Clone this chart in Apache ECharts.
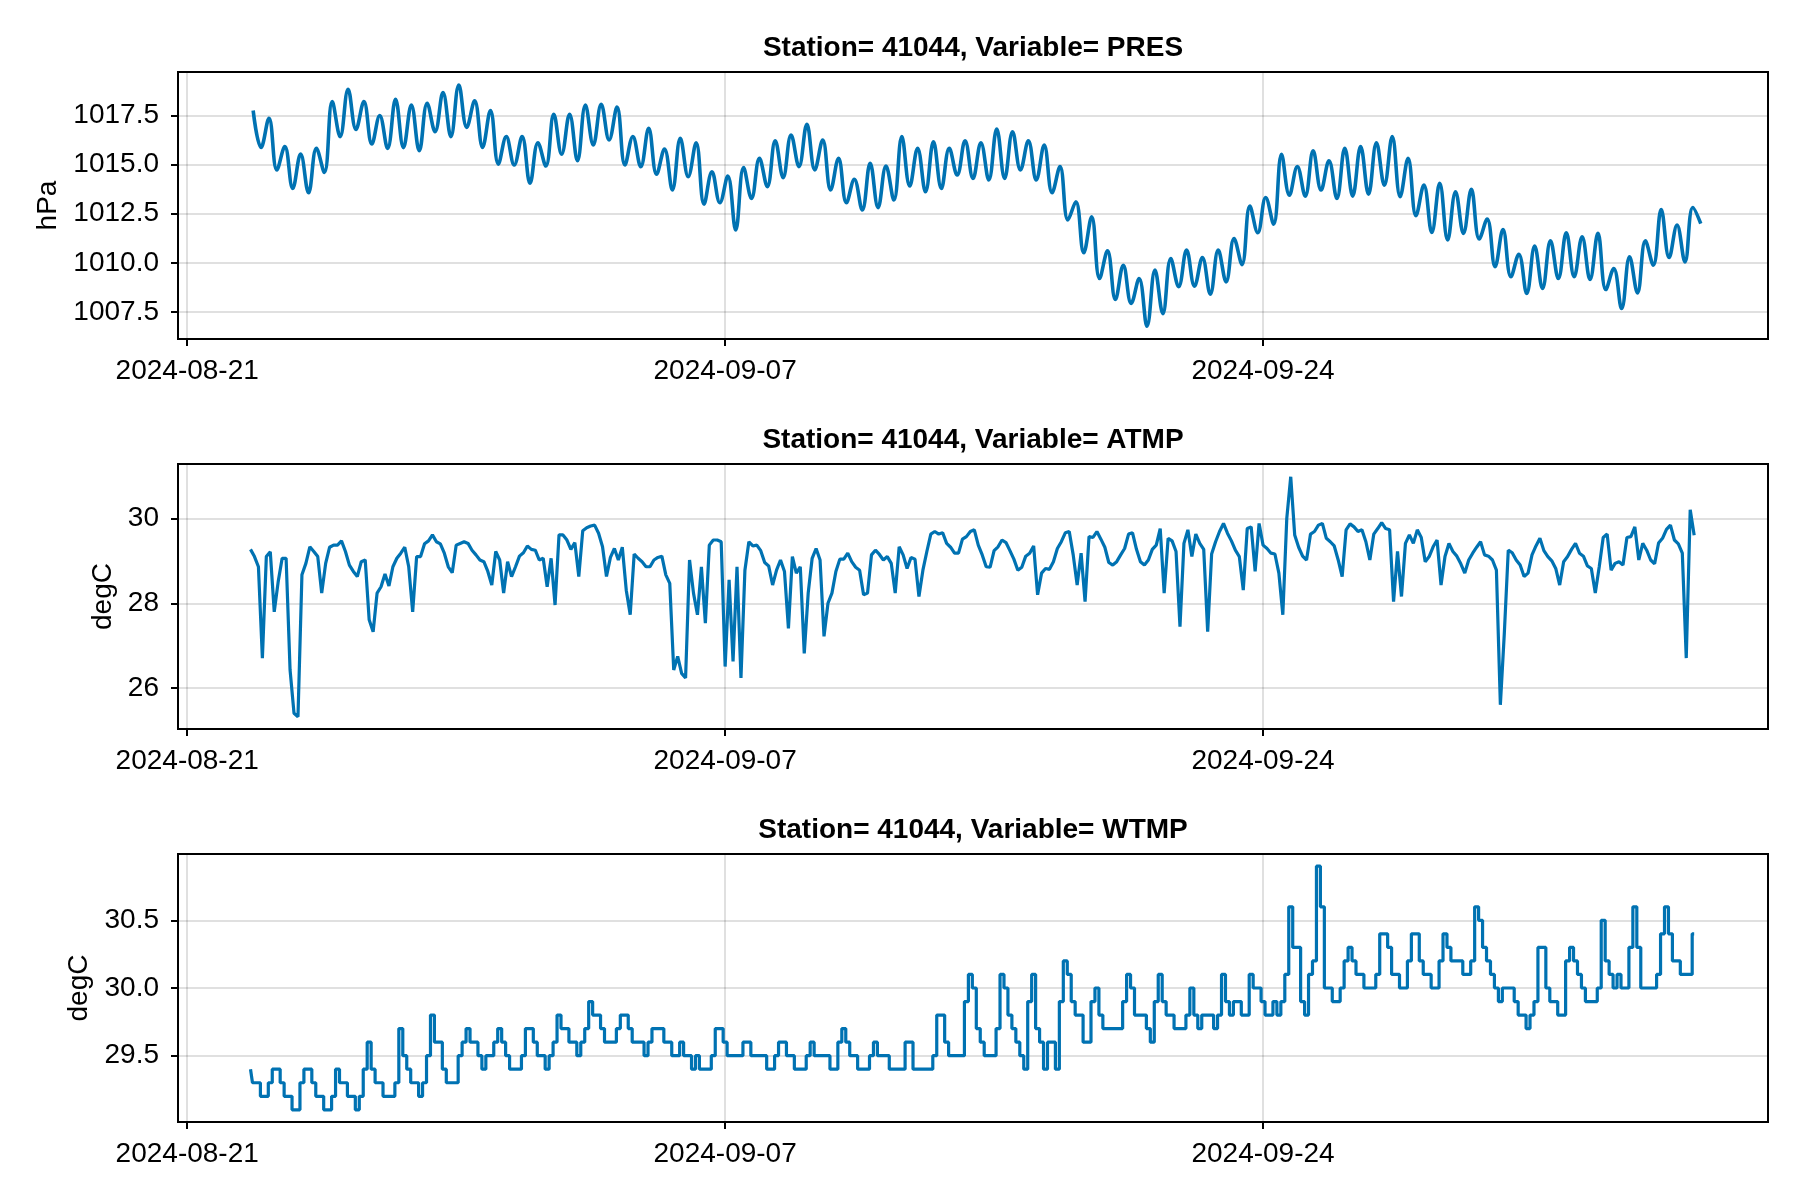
<!DOCTYPE html>
<html><head><meta charset="utf-8">
<script src="https://cdn.jsdelivr.net/npm/echarts@6/dist/echarts.min.js"></script>
<style>html,body{margin:0;padding:0;background:#fff}#c{width:1800px;height:1200px}</style>
</head><body><div id="c"></div>
<script>
// ---------------- data ----------------
const stationId = '41044';
const variableNames = ['PRES', 'ATMP', 'WTMP'];
const unitNames = ['hPa', 'degC', 'degC'];

// Pressure: 6-hourly samples starting 2024-08-23 02:00 UTC
const presStart = Date.UTC(2024, 7, 23, 2);
const presStepHours = 6;
const presValues = [
1017.76,1015.88,1017.36,1014.73,1015.92,1013.79,1015.54,1013.57,1015.83,1014.6,
1018.21,1016.43,1018.84,1016.80,1018.21,1016.05,1017.5,1015.83,1018.33,1015.87,
1018.04,1015.71,1018.13,1016.68,1018.67,1016.43,1019.06,1016.90,1018.25,1015.88,
1017.76,1015.03,1016.43,1014.98,1016.43,1014.05,1016.12,1014.93,1017.57,1015.53,
1017.57,1015.2,1018.04,1016.0,1018.08,1016.26,1017.93,1014.98,1016.43,1014.9,
1016.85,1014.51,1015.80,1013.71,1016.34,1014.39,1016.12,1012.99,1014.64,1013.06,
1014.42,1011.67,1014.85,1013.28,1015.32,1013.88,1016.22,1014.34,1016.51,1014.9,
1017.06,1014.73,1016.26,1013.71,1015.32,1013.06,1014.25,1012.69,1015.07,1012.81,
1014.93,1013.2,1016.43,1013.91,1015.83,1013.62,1016.17,1013.79,1015.83,1014.47,
1016.22,1014.3,1016.12,1014.22,1016.82,1014.30,1016.68,1014.73,1016.21,1014.22,
1016.0,1013.57,1014.9,1012.18,1013.11,1010.51,1012.35,1009.2,1010.61,1008.13,
1009.88,1007.93,1009.2,1006.77,1009.63,1007.41,1010.22,1008.78,1010.65,1008.81,
1010.27,1008.4,1010.65,1009.03,1011.24,1009.91,1012.89,1011.53,1013.33,1011.97,
1015.53,1013.45,1014.9,1013.4,1015.7,1013.71,1015.2,1013.28,1015.83,1013.4,
1015.92,1013.5,1016.12,1013.96,1016.43,1013.37,1015.32,1012.4,1013.96,1011.55,
1014.05,1011.16,1013.62,1011.5,1013.74,1011.21,1012.23,1009.8,1011.7,1009.29,
1010.44,1008.44,1010.85,1008.69,1011.12,1009.2,1011.53,1009.29,1011.33,1009.15,
1011.5,1008.64,1009.71,1007.67,1010.31,1008.47,1011.12,1009.88,1012.72,1010.27,
1011.92,1010.05,1012.82,1012.0
];

// Air and water temperature: 3-hourly samples starting 2024-08-23 00:00 UTC
const tempStart = Date.UTC(2024, 7, 23, 0);
const tempStepHours = 3;
const atmpValues = [
29.27,29.10,28.86,26.71,29.10,29.21,27.80,28.51,29.06,29.06,
26.43,25.41,25.33,28.67,28.94,29.33,29.22,29.10,28.24,28.94,
29.32,29.37,29.37,29.47,29.22,28.90,28.75,28.63,28.98,29.02,
27.61,27.33,28.24,28.39,28.69,28.41,28.86,29.06,29.18,29.32,
28.86,27.80,29.10,29.10,29.40,29.47,29.61,29.45,29.40,29.18,
28.86,28.72,29.37,29.41,29.45,29.41,29.25,29.14,29.02,28.98,
28.75,28.43,29.22,29.02,28.24,28.98,28.63,28.86,29.11,29.19,
29.35,29.27,29.25,29.02,29.06,28.39,29.06,27.96,29.61,29.61,
29.49,29.27,29.43,28.63,29.71,29.78,29.82,29.84,29.65,29.33,
28.63,29.08,29.29,29.02,
29.32,28.31,27.73,29.16,29.06,28.98,28.86,28.86,29.02,29.08,
29.11,28.67,28.47,26.43,26.75,26.35,26.24,29.02,28.24,27.73,
28.86,27.53,29.37,29.49,29.49,29.45,26.51,28.55,26.63,28.86,
26.24,28.78,29.45,29.35,29.37,29.24,28.96,28.88,28.43,28.78,
29.02,28.75,27.41,29.10,28.71,28.86,26.82,28.24,29.06,29.29,
29.02,27.22,28.00,28.24,28.75,29.04,29.04,29.18,28.98,28.85,
28.78,28.20,28.24,29.14,29.25,29.15,29.02,29.10,28.94,28.24,
29.33,29.14,28.82,29.08,29.04,28.16,28.78,29.22,29.63,29.69,
29.63,29.66,29.41,29.32,29.18,29.18,29.51,29.57,29.69,29.73,
29.37,
29.14,28.86,28.85,29.24,29.33,29.49,29.43,29.24,29.04,28.78,
28.85,29.11,29.18,29.35,28.20,28.71,28.82,28.80,28.98,29.29,
29.45,29.66,29.69,29.14,28.43,29.18,28.04,29.57,29.55,29.69,
29.51,29.32,28.96,28.90,28.98,29.14,29.29,29.63,29.66,29.27,
28.98,28.90,29.02,29.27,29.37,29.76,28.24,29.53,29.47,29.22,
27.45,29.41,29.73,29.10,29.63,29.41,29.27,27.33,29.16,29.45,
29.69,29.88,29.65,29.47,29.25,29.10,28.31,29.76,29.80,28.75,
29.88,29.37,29.29,29.18,29.16,28.71,27.73,30.00,30.98,29.61,
29.32,29.11,29.02,29.63,29.69,29.84,29.88,29.53,29.45,29.35,
29.02,
28.63,29.73,29.87,29.80,29.69,29.73,29.45,29.02,29.63,29.76,
29.90,29.76,29.73,28.04,29.22,28.16,29.41,29.61,29.41,29.73,
29.55,28.98,29.10,29.33,29.49,28.43,29.10,29.41,29.22,29.11,
28.93,28.71,29.02,29.18,29.32,29.45,29.14,29.11,29.02,28.78,
25.61,27.29,29.25,29.19,29.02,28.90,28.63,28.71,29.14,29.35,
29.53,29.24,29.10,29.00,28.82,28.43,28.98,29.10,29.27,29.41,
29.18,29.11,28.88,28.82,28.24,28.86,29.55,29.63,28.78,28.94,
28.98,28.90,29.55,29.57,29.80,29.02,29.41,29.25,29.02,28.93,
29.42,29.53,29.74,29.84,29.49,29.40,29.18,26.71,30.20,29.60
];
const wtmpValues = [
29.4,29.3,29.3,29.2,29.2,29.3,29.4,29.4,29.3,29.2,
29.2,29.1,29.1,29.3,29.4,29.4,29.3,29.2,29.2,29.1,
29.1,29.2,29.4,29.3,29.3,29.2,29.2,29.1,29.2,29.4,
29.6,29.4,29.3,29.3,29.2,29.2,29.2,29.3,29.7,29.5,
29.4,29.3,29.3,29.2,29.3,29.5,29.8,29.6,29.6,29.4,
29.3,29.3,29.3,29.5,29.6,29.7,29.6,29.6,29.5,29.4,
29.5,29.5,29.6,29.7,29.6,29.5,29.4,29.4,29.4,29.5,
29.7,29.7,29.6,29.5,29.5,29.4,29.5,29.6,29.8,29.7,
29.7,29.6,29.6,29.5,29.6,29.7,29.9,29.8,29.8,29.7,
29.6,29.6,29.6,29.7,
29.8,29.8,29.7,29.6,29.6,29.6,29.5,29.6,29.7,29.7,
29.7,29.6,29.6,29.5,29.5,29.6,29.5,29.5,29.4,29.5,
29.4,29.4,29.4,29.5,29.7,29.7,29.6,29.5,29.5,29.5,
29.5,29.6,29.6,29.5,29.5,29.5,29.5,29.4,29.4,29.5,
29.6,29.6,29.5,29.5,29.4,29.4,29.4,29.5,29.6,29.5,
29.5,29.5,29.5,29.4,29.4,29.6,29.7,29.6,29.5,29.5,
29.4,29.4,29.4,29.5,29.6,29.5,29.5,29.5,29.4,29.4,
29.4,29.4,29.6,29.6,29.4,29.4,29.4,29.4,29.4,29.5,
29.8,29.8,29.6,29.5,29.5,29.5,29.5,29.9,30.1,30.0,
29.7,
29.6,29.5,29.5,29.5,29.7,30.1,30.0,29.8,29.7,29.6,
29.5,29.4,29.9,30.1,29.7,29.6,29.4,29.6,29.6,29.4,
29.9,30.2,30.1,29.9,29.8,29.8,29.6,29.6,29.9,30.0,
29.8,29.7,29.7,29.7,29.7,29.7,29.9,30.1,30.0,29.8,
29.8,29.8,29.7,29.6,29.9,30.1,29.9,29.8,29.8,29.7,
29.7,29.7,29.8,30.0,29.8,29.7,29.8,29.8,29.8,29.7,
29.8,30.1,29.9,29.8,29.9,29.9,29.8,29.8,30.1,30.0,
30.0,29.9,29.8,29.8,29.9,29.8,29.9,30.1,30.6,30.3,
30.3,29.9,29.8,30.1,30.2,30.9,30.6,30.0,30.0,29.9,
29.9,
30.0,30.2,30.3,30.2,30.1,30.1,30.0,30.0,30.0,30.1,
30.4,30.4,30.3,30.1,30.1,30.0,30.0,30.2,30.4,30.4,
30.2,30.1,30.1,30.0,30.0,30.2,30.4,30.3,30.2,30.2,
30.2,30.1,30.1,30.2,30.6,30.5,30.3,30.2,30.1,30.0,
29.9,30.0,30.0,30.0,29.9,29.8,29.8,29.7,29.8,29.9,
30.3,30.3,30.0,29.9,29.9,29.8,29.8,30.2,30.3,30.2,
30.1,30.0,29.9,29.9,29.9,30.0,30.5,30.2,30.1,30.0,
30.1,30.0,30.0,30.3,30.6,30.3,30.0,30.0,30.0,30.0,
30.1,30.4,30.6,30.4,30.2,30.2,30.1,30.1,30.1,30.4
];

// tick labels
const xTickDates = ['2024-08-21', '2024-09-07', '2024-09-24'];
const presTicks = [1007.5, 1010, 1012.5, 1015, 1017.5];
const atmpTicks = [26, 28, 30];
const wtmpTicks = [29.5, 30, 30.5];

// ---------------- chart ----------------
const HOUR = 3600 * 1000;
const toPairs = (vals, start, stepH) => vals.map((v, i) => [start + i * stepH * HOUR, v]);
const xTickValues = xTickDates.map(d => Date.parse(d + 'T00:00:00Z'));
const xMin = Date.UTC(2024, 7, 20, 17);
const xMax = Date.UTC(2024, 9, 9, 23);

const FONT = '"Liberation Sans", "Helvetica", Arial, sans-serif';
const LINE = '#0072B2';
const GRIDC = 'rgba(0,0,0,0.12)';

const gridTops = [72, 464, 854];
const gridHeights = [267, 265, 268];
const yRanges = [[1006.12, 1019.72], [25.04, 31.28], [29.01, 30.99]];
const yTicks = [presTicks, atmpTicks, wtmpTicks];
const yDigits = [1, 0, 1];
const nameGaps = [114, 61, 61];

const grids = gridTops.map((t, i) => ({
  left: 178, width: 1590, top: t, height: gridHeights[i],
  show: true, borderColor: '#000', borderWidth: 2, backgroundColor: 'transparent'
}));

const xAxes = gridTops.map((t, i) => ({
  type: 'value', gridIndex: i, min: xMin, max: xMax,
  axisLine: { show: false },
  axisTick: { show: true, length: 7, lineStyle: { color: '#000', width: 2 }, customValues: xTickValues },
  axisLabel: {
    customValues: xTickValues, margin: 18, fontSize: 28, color: '#000', fontFamily: FONT,
    formatter: v => new Date(v).toISOString().slice(0, 10)
  },
  splitLine: { show: true, lineStyle: { color: GRIDC, width: 2 } }
}));

const yAxes = gridTops.map((t, i) => ({
  type: 'value', gridIndex: i, min: yRanges[i][0], max: yRanges[i][1],
  name: unitNames[i], nameLocation: 'middle', nameRotate: 90, nameGap: nameGaps[i],
  nameTextStyle: { fontSize: 28, color: '#000', fontFamily: FONT },
  axisLine: { show: false },
  axisTick: { show: true, length: 7, lineStyle: { color: '#000', width: 2 }, customValues: yTicks[i] },
  axisLabel: {
    customValues: yTicks[i], margin: 19, fontSize: 28, color: '#000', fontFamily: FONT,
    formatter: v => Number(v).toFixed(yDigits[i])
  },
  splitLine: { show: true, lineStyle: { color: GRIDC, width: 2 } }
}));

const series = [
  { type: 'line', xAxisIndex: 0, yAxisIndex: 0, showSymbol: false, smooth: 0.4,
    lineStyle: { color: LINE, width: 3.6 }, data: toPairs(presValues, presStart, presStepHours) },
  { type: 'line', xAxisIndex: 1, yAxisIndex: 1, showSymbol: false,
    lineStyle: { color: LINE, width: 3.2 }, data: toPairs(atmpValues, tempStart, tempStepHours) },
  { type: 'line', xAxisIndex: 2, yAxisIndex: 2, showSymbol: false, step: 'middle',
    lineStyle: { color: LINE, width: 3.2 }, data: toPairs(wtmpValues, tempStart, tempStepHours) }
];

const titleY = [48, 440, 830];
const graphic = variableNames.map((v, i) => ({
  type: 'text', x: 973, y: titleY[i], silent: true,
  style: {
    text: 'Station= ' + stationId + ', Variable= ' + v,
    fontSize: 28, fontWeight: 'bold', fontFamily: FONT, fill: '#000',
    align: 'center', verticalAlign: 'middle', textAlign: 'center', textVerticalAlign: 'middle'
  }
}));

const chart = echarts.init(document.getElementById('c'), null, { renderer: 'canvas' });
chart.setOption({
  animation: false,
  backgroundColor: '#fff',
  grid: grids, xAxis: xAxes, yAxis: yAxes, series: series, graphic: graphic
});
</script>
</body></html>
